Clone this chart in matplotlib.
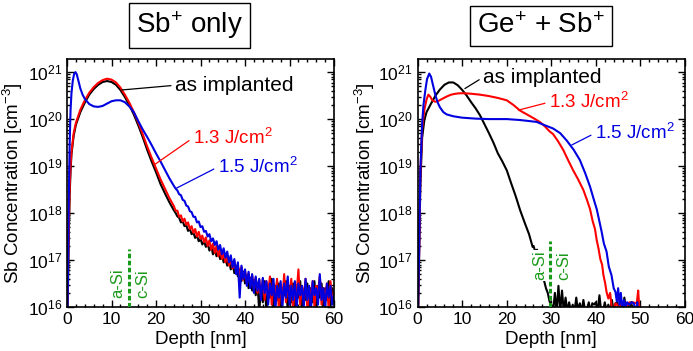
import numpy as np
import matplotlib
matplotlib.use("Agg")
import matplotlib.pyplot as plt
from matplotlib.ticker import LogLocator, MultipleLocator, NullFormatter

plt.rcParams["font.family"] = ["Liberation Sans", "DejaVu Sans"]
plt.rcParams["mathtext.fontset"] = "custom"
plt.rcParams["mathtext.rm"] = "Liberation Sans"
plt.rcParams["mathtext.it"] = "Liberation Sans:italic"
plt.rcParams["mathtext.bf"] = "Liberation Sans:bold"

# ---- data: depth [nm] and log10(Sb concentration [cm^-3]) ----
# left panel: Sb+ only
L_black_d = [0, 0.2, 0.4, 0.6, 0.8, 1.0, 1.5, 2, 3, 4, 5, 6, 7, 8, 9, 10, 11, 12, 13, 14, 15,
             16, 17, 18, 19, 20, 21, 22, 23]
L_black_head = [15.5, 16.3, 17.5, 18.4, 18.9, 19.25, 19.65, 19.88, 20.15, 20.35, 20.52, 20.64,
                20.73, 20.79, 20.81, 20.79, 20.73, 20.62, 20.47, 20.3, 20.1, 19.87, 19.62, 19.35,
                19.1, 18.87, 18.62, 18.42, 18.23]
L_red_head = [15.8, 16.6, 17.7, 18.55, 19.0, 19.3, 19.7, 19.92, 20.2, 20.4, 20.56, 20.68, 20.77,
              20.83, 20.86, 20.84, 20.78, 20.67, 20.52, 20.35, 20.15, 19.93, 19.68, 19.42, 19.18,
              18.95, 18.72, 18.52, 18.32]
L_blue_d = [0, 0.2, 0.4, 0.6, 0.8, 1.0, 1.3, 1.6, 1.9, 2.2, 2.6, 3.0, 3.5, 4, 5, 6, 7, 8, 9, 10,
            11, 12, 13, 14, 15, 16, 17, 18, 19, 20, 21, 22, 23]
L_blue_head = [15.5, 16.5, 18.3, 19.5, 20.2, 20.55, 20.82, 20.96, 21.0, 20.95, 20.8, 20.65, 20.52,
               20.43, 20.32, 20.27, 20.26, 20.28, 20.33, 20.38, 20.4, 20.4, 20.36, 20.27, 20.15,
               19.96, 19.78, 19.62, 19.45, 19.27, 19.1, 18.92, 18.74]

# noisy tails, 24..60 nm
L_black_tail = [18.06, 18.00, 17.93, 17.90, 17.80, 17.82, 17.72, 17.74, 17.62, 17.66, 17.55, 17.58,
                17.47, 17.52, 17.40, 17.45, 17.33, 17.40, 17.28, 17.35, 17.20, 17.30, 17.12, 17.22,
                17.08, 17.18, 17.02, 17.12, 16.95, 17.05, 16.88, 17.00, 16.80, 16.95, 16.72, 16.88,
                16.65, 16.80, 16.55, 16.75, 16.50, 16.68, 16.40, 16.62, 16.35, 16.58, 16.25, 16.50,
                15.90, 16.45, 16.10, 16.55, 15.90, 16.40, 16.20, 16.60, 15.90, 16.45, 16.15, 16.50,
                15.95, 16.40, 16.25, 16.55, 15.90, 16.45, 16.10, 16.50, 15.95, 16.40, 16.20, 16.55,
                15.90, 16.35, 16.15, 16.50, 15.95, 16.40, 16.10, 16.55, 15.90, 16.45, 16.20, 16.50,
                15.95, 16.40, 16.15, 16.55, 16.00, 16.40, 16.20]
L_red_tail = [18.15, 18.05, 18.05, 17.92, 17.95, 17.82, 17.88, 17.75, 17.80, 17.66, 17.72, 17.58,
              17.66, 17.50, 17.60, 17.45, 17.52, 17.38, 17.48, 17.30, 17.42, 17.22, 17.35, 17.15,
              17.30, 17.08, 17.22, 17.02, 17.15, 16.95, 17.10, 16.88, 17.02, 16.82, 16.98, 16.75,
              16.90, 16.65, 16.85, 16.58, 16.78, 16.50, 16.72, 16.45, 16.68, 16.38, 16.62, 16.30,
              16.58, 16.25, 16.60, 16.15, 16.55, 16.30, 16.65, 16.05, 16.50, 16.25, 16.60, 15.95,
              16.45, 16.20, 16.70, 16.10, 16.45, 16.25, 16.60, 15.95, 16.50, 16.30, 16.80, 16.05,
              16.45, 16.20, 16.60, 15.95, 16.40, 16.25, 16.55, 16.00, 16.45, 16.30, 16.65, 16.05,
              16.40, 16.20, 16.50, 15.95, 16.55, 16.10, 16.30]
L_blue_tail = [18.58, 18.52, 18.48, 18.40, 18.38, 18.28, 18.26, 18.16, 18.14, 18.04, 18.02, 17.92,
               17.92, 17.80, 17.82, 17.70, 17.72, 17.60, 17.62, 17.50, 17.55, 17.40, 17.46, 17.32,
               17.40, 17.22, 17.32, 17.12, 17.25, 17.05, 17.18, 16.95, 17.10, 16.85, 17.02, 16.70,
               16.95, 16.20, 16.88, 16.60, 16.80, 16.45, 16.75, 16.40, 16.70, 16.30, 16.65, 16.35,
               16.60, 16.15, 16.62, 16.30, 16.55, 16.05, 16.50, 16.25, 16.60, 15.90, 16.45, 16.20,
               16.55, 16.00, 16.50, 16.20, 16.65, 16.05, 16.45, 16.15, 16.55, 15.95, 16.50, 16.25,
               16.45, 16.00, 16.60, 16.15, 16.45, 15.90, 16.55, 16.25, 16.40, 16.05, 16.70, 16.15,
               16.40, 15.95, 16.50, 16.20, 16.45, 16.05, 16.25]

# right panel: Ge+ + Sb+
R_black_d = [0, 0.3, 0.6, 1.0, 1.5, 2, 3, 4, 5, 6, 7, 8, 9, 10, 11, 12, 13, 14, 15, 16, 17, 18,
             19, 20, 21, 22, 23, 24, 25, 25.8]
R_black_head = [15.5, 17.0, 18.6, 19.6, 19.98, 20.15, 20.33, 20.5, 20.63, 20.73, 20.78, 20.78,
                20.72, 20.62, 20.5, 20.36, 20.23, 20.08, 19.89, 19.7, 19.5, 19.27, 19.1, 18.91,
                18.63, 18.36, 18.06, 17.8, 17.55, 17.28]
# 26..48 nm
R_black_tail = [17.30, 17.18, 17.22, 17.00, 16.90, 16.70, 16.55, 16.40, 16.30, 16.12, 16.05, 15.90,
                16.30, 15.90, 16.45, 15.90, 16.35, 15.90, 16.20, 15.90, 16.10, 15.90, 16.05, 15.90,
                16.20, 15.90, 16.08, 15.90, 16.15, 15.90, 15.90, 16.10, 15.90, 16.08, 16.05, 16.10,
                15.90, 16.25, 15.90, 15.90, 16.10, 15.90, 16.05, 15.90, 16.15, 15.90, 16.08, 16.10,
                15.90, 16.05, 15.90, 16.20, 15.90, 16.08, 15.90, 16.10]
R_red_d = [0, 0.3, 0.6, 1.0, 1.5, 2.0, 2.4, 2.8, 3.3, 3.9, 4.5, 5.5, 6.5, 7.5, 8.5, 9.5, 10.5, 12,
           14, 16, 18, 20, 21.5, 23, 24.5, 26, 27.4, 28.5, 29.6, 30.4, 31.5, 32.7, 33.8, 34.9, 36,
           37.2, 38, 38.7, 39.3, 39.8, 40.2, 40.6, 41.0, 41.4, 41.7, 42.1, 42.4, 42.8, 43.2, 43.6,
           44.0, 44.4, 44.8, 45.2, 45.6, 46.0, 46.4, 46.8, 47.2, 47.6, 48.0, 48.4, 48.8, 49.2,
           49.5, 49.8, 50.0]
R_red = [15.5, 17.0, 18.8, 19.8, 20.2, 20.42, 20.52, 20.48, 20.4, 20.37, 20.38, 20.43, 20.48,
         20.52, 20.54, 20.55, 20.55, 20.54, 20.52, 20.49, 20.45, 20.4, 20.3, 20.18, 20.1, 20.02,
         19.94, 19.85, 19.74, 19.68, 19.53, 19.34, 19.12, 18.91, 18.72, 18.49, 18.28, 18.08, 17.82,
         17.66, 17.42, 17.24, 17.02, 16.9, 16.68, 16.5, 16.32, 16.18, 16.3, 15.95, 15.9, 16.08,
         16.05, 15.9, 16.1, 16.08, 16.1, 15.9, 16.08, 16.1, 16.08, 16.1, 16.08, 16.1, 16.35, 15.9,
         15.5]
R_blue_d = [0, 0.3, 0.6, 1.0, 1.3, 1.7, 2.1, 2.6, 3.0, 3.5, 4.0, 4.5, 5.0, 5.75, 6.5, 8, 10, 13,
            16, 20, 23, 26.7, 28.5, 30.4, 32, 33.4, 35, 36.4, 37.6, 38.7, 39.5, 40.2, 40.8, 41.3,
            41.8, 42.4, 42.9, 43.5, 44.0, 44.4, 44.7, 45.0, 45.3, 45.6, 46.0, 46.3, 46.7, 47.0,
            47.5, 48.0, 48.5, 49.0, 49.3, 49.6]
R_blue = [15.5, 17.0, 18.9, 19.9, 20.3, 20.6, 20.85, 20.97, 20.9, 20.7, 20.5, 20.35, 20.25, 20.15,
          20.1, 20.06, 20.03, 20.01, 20.0, 20.0, 19.98, 19.94, 19.87, 19.8, 19.7, 19.55, 19.35,
          19.13, 18.85, 18.56, 18.3, 18.08, 17.82, 17.6, 17.35, 17.18, 16.86, 16.68, 16.4, 16.32,
          16.12, 16.4, 16.05, 16.3, 15.9, 16.15, 16.0, 16.1, 16.05, 16.1, 16.08, 15.9, 16.1, 15.5]

BLACK, RED, BLUE, GREEN = "black", "#ff0000", "#0000e0", "#1a9a1a"


def setup(ax):
    ax.set_yscale("log")
    ax.set_xlim(0, 60)
    ax.set_ylim(1e16, 10 ** 21.28)
    ax.xaxis.set_major_locator(MultipleLocator(10))
    ax.xaxis.set_minor_locator(MultipleLocator(2))
    ax.yaxis.set_major_locator(LogLocator(base=10, numticks=10))
    ax.yaxis.set_minor_locator(LogLocator(base=10, subs=np.arange(2, 10), numticks=20))
    ax.yaxis.set_minor_formatter(NullFormatter())
    ax.tick_params(which="both", direction="in", top=True, right=True, labelsize=12.5, width=1)
    ax.tick_params(which="major", length=5)
    ax.tick_params(which="minor", length=2.5)
    for s in ax.spines.values():
        s.set_linewidth(1.2)
    ax.set_xlabel("Depth [nm]", fontsize=13.5)
    ax.set_ylabel("Sb Concentration [cm$^{-3}$]", fontsize=13.5)


def note(ax, text, xy, xytext, color, size):
    ax.annotate(text, xy=xy, xytext=xytext, color=color, fontsize=size, ha="left", va="center",
                arrowprops=dict(arrowstyle="-", color=color, lw=0.9, shrinkA=1, shrinkB=0,
                                relpos=(0, 0.5)))


fig = plt.figure(figsize=(6.93, 3.51), dpi=100)
axL = fig.add_axes([0.0967, 0.1254, 0.3853, 0.7066])
axR = fig.add_axes([0.6027, 0.1254, 0.3857, 0.7066])

tailL = np.linspace(24, 60, len(L_black_tail))
axL.plot(L_black_d + list(tailL), 10 ** np.array(L_black_head + L_black_tail), color=BLACK, lw=1.5)
axL.plot(L_black_d + list(tailL), 10 ** np.array(L_red_head + L_red_tail), color=RED, lw=1.5)
axL.plot(L_blue_d + list(tailL), 10 ** np.array(L_blue_head + L_blue_tail), color=BLUE, lw=1.5)

tailR = np.linspace(26, 48, len(R_black_tail))
axR.plot(R_black_d + list(tailR), 10 ** np.array(R_black_head + R_black_tail), color=BLACK, lw=1.5)
axR.plot(R_red_d, 10 ** np.array(R_red), color=RED, lw=1.5)
axR.plot(R_blue_d, 10 ** np.array(R_blue), color=BLUE, lw=1.5)

for ax in (axL, axR):
    setup(ax)
axL.yaxis.set_label_coords(-0.157, 0.5)
axR.yaxis.set_label_coords(-0.152, 0.5)
axL.xaxis.set_label_coords(0.5, -0.095)
axR.xaxis.set_label_coords(0.5, -0.095)

# a-Si / c-Si interface
axL.plot([14, 14], [1e16, 10 ** 17.23], color=GREEN, lw=2.2, ls=(0, (1.5, 0.8)), zorder=4)
axL.text(11.5, 10 ** 16.5, "a-Si", rotation=90, color=GREEN, fontsize=12, ha="center", va="center")
axL.text(17.1, 10 ** 16.5, "c-Si", rotation=90, color=GREEN, fontsize=12, ha="center", va="center")
axR.plot([29.6, 29.6], [1e16, 10 ** 17.4], color=GREEN, lw=2.2, ls=(0, (1.5, 0.8)), zorder=4)
axR.text(27.3, 10 ** 16.88, "a-Si", rotation=90, color=GREEN, fontsize=12, ha="center",
         va="center", zorder=5, bbox=dict(fc="white", ec="none", pad=0.5))
axR.text(32.7, 10 ** 16.88, "c-Si", rotation=90, color=GREEN, fontsize=12, ha="center",
         va="center", zorder=5)

note(axL, "as implanted", (12.3, 10 ** 20.62), (24.3, 10 ** 20.72), BLACK, 15)
note(axL, "1.3 J/cm$^2$", (19.8, 10 ** 19.04), (28.3, 10 ** 19.6), RED, 13.5)
note(axL, "1.5 J/cm$^2$", (24.6, 10 ** 18.53), (33.9, 10 ** 18.98), BLUE, 13.5)
note(axR, "as implanted", (10.6, 10 ** 20.65), (14.7, 10 ** 20.89), BLACK, 15)
note(axR, "1.3 J/cm$^2$", (22.6, 10 ** 20.19), (29.5, 10 ** 20.36), RED, 13.5)
note(axR, "1.5 J/cm$^2$", (34.6, 10 ** 19.45), (39.8, 10 ** 19.70), BLUE, 13.5)

box = dict(boxstyle="square,pad=0.25", fc="white", ec="black", lw=1)
fig.text(0.273, 0.927, "Sb$^{+}$ only", fontsize=20, ha="center", va="center", bbox=box)
fig.text(0.781, 0.927, "Ge$^{+}$ + Sb$^{+}$", fontsize=20, ha="center", va="center", bbox=box)

fig.savefig("out.png", dpi=100)
